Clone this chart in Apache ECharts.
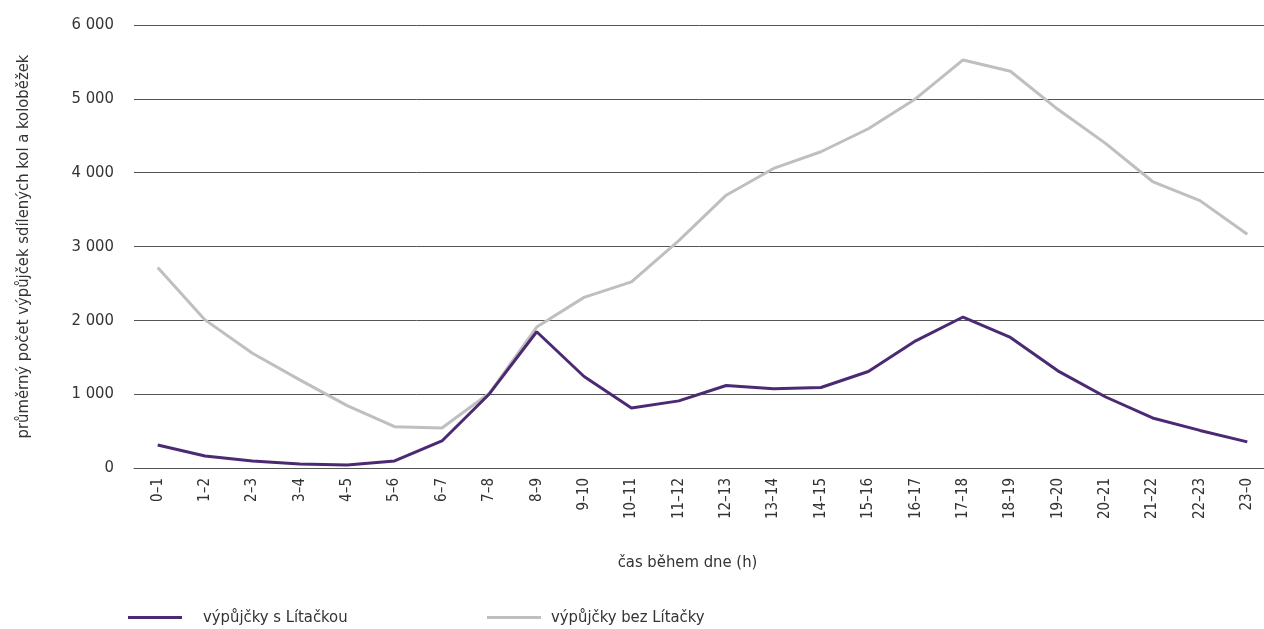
<!DOCTYPE html>
<html><head><meta charset="utf-8">
<script src="https://cdn.jsdelivr.net/npm/echarts@6/dist/echarts.min.js"></script>
<style>html,body{margin:0;padding:0;background:#fff}#c{width:1264px;height:629px}</style>
</head><body><div id="c"></div>
<script>
const categories = ["0–1","1–2","2–3","3–4","4–5","5–6","6–7","7–8","8–9","9–10","10–11","11–12","12–13","13–14","14–15","15–16","16–17","17–18","18–19","19–20","20–21","21–22","22–23","23–0"];
const withLitacka = [312,163,95,54,41,95,366,1003,1845,1239,814,909,1117,1072,1090,1307,1723,2045,1768,1316,965,678,509,354];
const withoutLitacka = [2716,2006,1554,1193,845,560,542,1012,1909,2311,2520,3080,3695,4057,4283,4595,5002,5527,5373,4858,4400,3880,3621,3165];
const seriesNames = ["výpůjčky s Lítačkou","výpůjčky bez Lítačky"];
const yTicks = [0,1000,2000,3000,4000,5000,6000];
const FONT = '"Liberation Sans Narrow","DejaVu Sans Condensed",sans-serif';
const chart = echarts.init(document.getElementById('c'));
chart.setOption({
  animation:false,
  textStyle:{fontFamily:FONT,color:'#333'},
  grid:{left:134,width:1137,top:25,height:443,outerBoundsMode:'none',containLabel:false},
  legend:[
    {left:128,top:609,padding:0,icon:'rect',itemWidth:54,itemHeight:3,data:[seriesNames[0]],textStyle:{fontFamily:FONT,fontSize:16.5,color:'#333',padding:[0,0,0,16]}},
    {left:487,top:609,padding:0,icon:'rect',itemWidth:54,itemHeight:3,data:[seriesNames[1]],textStyle:{fontFamily:FONT,fontSize:16.5,color:'#333',padding:[0,0,0,5]}}
  ],
  xAxis:{type:'category',data:categories,boundaryGap:true,
    axisLine:{lineStyle:{color:'#555',width:1}},axisTick:{show:false},
    axisLabel:{rotate:90,fontSize:15,color:'#333',margin:10,fontFamily:FONT,interval:0},
    name:'čas během dne (h)',nameLocation:'middle',nameGap:86,nameTextStyle:{fontSize:16.5,color:'#333',fontFamily:FONT,padding:[0,30,0,0]}},
  yAxis:{type:'value',min:yTicks[0],max:yTicks[yTicks.length-1],interval:1000,
    axisLine:{show:false},axisTick:{show:false},
    splitLine:{lineStyle:{color:'#555',width:1}},
    axisLabel:{fontSize:16.5,color:'#333',margin:20,fontFamily:FONT,formatter:v=>String(v).replace(/\B(?=(\d{3})+(?!\d))/g,' ')},
    name:'průměrný počet výpůjček sdílených kol a koloběžek',nameLocation:'middle',nameGap:102,
    nameTextStyle:{fontSize:16.5,color:'#333',fontFamily:FONT}},
  series:[
    {name:seriesNames[0],type:'line',data:withLitacka,symbol:'none',lineStyle:{color:'#4b2a73',width:3},itemStyle:{color:'#4b2a73'},z:3},
    {name:seriesNames[1],type:'line',data:withoutLitacka,symbol:'none',lineStyle:{color:'#bfbfbf',width:3},itemStyle:{color:'#bfbfbf'},z:2}
  ]
});
</script></body></html>
